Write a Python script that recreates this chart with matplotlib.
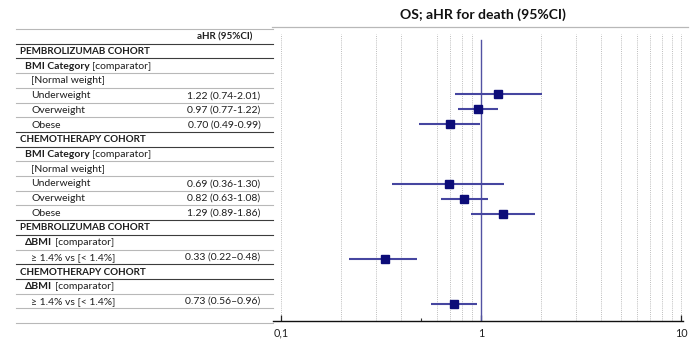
import matplotlib
matplotlib.use("Agg")
import matplotlib.pyplot as plt
import numpy as np

plt.rcParams['font.family'] = ['Lato', 'DejaVu Sans']

# ---------------- data ----------------
row_labels = ["aHR (95%CI)",
              "PEMBROLIZUMAB COHORT", "BMI Category", "[Normal weight]",
              "Underweight", "Overweight", "Obese",
              "CHEMOTHERAPY COHORT", "BMI Category", "[Normal weight]",
              "Underweight", "Overweight", "Obese",
              "PEMBROLIZUMAB COHORT", "\u0394BMI", "\u2265 1.4% vs [< 1.4%]",
              "CHEMOTHERAPY COHORT", "\u0394BMI", "\u2265 1.4% vs [< 1.4%]",
              ""]
row_kinds = ["header",
             "cohort", "group", "item", "item", "item", "item",
             "cohort", "group", "item", "item", "item", "item",
             "cohort", "group", "item",
             "cohort", "group", "item",
             "blank"]
hr = [None, None, None, None, 1.22, 0.97, 0.70, None, None, None, 0.69, 0.82, 1.29,
      None, None, 0.33, None, None, 0.73, None]
ci_lo = [None, None, None, None, 0.74, 0.77, 0.49, None, None, None, 0.36, 0.63, 0.89,
         None, None, 0.22, None, None, 0.56, None]
ci_hi = [None, None, None, None, 2.01, 1.22, 0.99, None, None, None, 1.30, 1.08, 1.86,
         None, None, 0.48, None, None, 0.96, None]
ci_text = ["", "", "", "", "1.22 (0.74-2.01)", "0.97 (0.77-1.22)", "0.70 (0.49-0.99)",
           "", "", "", "0.69 (0.36-1.30)", "0.82 (0.63-1.08)", "1.29 (0.89-1.86)",
           "", "", "0.33 (0.22\u20130.48)", "", "", "0.73 (0.56\u20130.96)", ""]
x_ticks = [0.1, 1, 10]
x_tick_labels = ["0,1", "1", "10"]
grid_values = [0.1, 0.2, 0.3, 0.4, 0.6, 0.7, 0.8, 0.9, 2, 3, 4, 5, 6, 7, 8, 9, 10]
title = "OS; aHR for death (95%CI)"

# ---------------- figure ----------------
W, H = 694, 342
fig = plt.figure(figsize=(W / 100, H / 100), dpi=100)
fig.patch.set_facecolor("white")

# table layer in pixel coordinates
tab = fig.add_axes([0, 0, 1, 1])
tab.set_xlim(0, W)
tab.set_ylim(H, 0)
tab.axis("off")

TXT = "#1e1e1e"
FS = 7.5
FSB = 7.1
n = len(row_labels)
top = 29.0
pitch = 14.7
dark_after = {0, 1, 6, 7, 12, 13, 15, 16}

# horizontal lines
tab.plot([16, 273], [top, top], color="#b8b8b8", lw=0.8)
for k in range(n):
    yk = top + (k + 1) * pitch
    if k in dark_after:
        tab.plot([16, 273], [yk, yk], color="#3c3c3c", lw=0.8)
    else:
        tab.plot([16, 273], [yk, yk], color="#b8b8b8", lw=0.8)

renderer = fig.canvas.get_renderer()
for i, (lab, kind) in enumerate(zip(row_labels, row_kinds)):
    yc = top + (i + 0.5) * pitch + 0.5
    if kind == "header":
        tab.text(224.5, yc, lab, ha="center", va="center", fontsize=FSB,
                 fontweight="bold", color=TXT)
    elif kind == "cohort":
        tab.text(20.5, yc, lab, ha="left", va="center", fontsize=FSB,
                 fontweight="bold", color=TXT)
    elif kind == "group":
        t = tab.text(25, yc, lab, ha="left", va="center", fontsize=FS,
                     fontweight="bold", color=TXT)
        bb = t.get_window_extent(renderer=renderer)
        x_end = bb.x1  # display pixels, equals data px here
        tab.text(x_end + 2.5, yc, "[comparator]", ha="left", va="center",
                 fontsize=FS, color=TXT)
    elif kind == "item":
        tab.text(31.5, yc, lab, ha="left", va="center", fontsize=FS, color=TXT)
    if ci_text[i]:
        tab.text(260.5, yc, ci_text[i], ha="right", va="center", fontsize=FS,
                 color=TXT)

# title and its rule
fig.text(483 / W, 1 - 14.5 / H, title, ha="center", va="center", fontsize=10.1,
         fontweight="bold", color="#111111")
tab.plot([272, 688], [27, 27], color="#b8b8b8", lw=0.9)

# ---------------- forest plot ----------------
ax_left_px, ax_right_px = 272.7, 683.0
ax_top_px, ax_bot_px = 34.0, 320.7
ax = fig.add_axes([ax_left_px / W, 1 - ax_bot_px / H,
                   (ax_right_px - ax_left_px) / W, (ax_bot_px - ax_top_px) / H])
ax.patch.set_alpha(0)
ax.set_xscale("log")
x_lo = 10 ** (-1 - (281 - ax_left_px) / 200)
x_hi = 10 ** (1 + (ax_right_px - 681) / 200)
ax.set_xlim(x_lo, x_hi)
row0 = 33.5
rp = 15.04
ax.set_ylim((ax_bot_px - row0) / rp, (ax_top_px - row0) / rp)

for g in grid_values:
    ax.axvline(g, color="#bdbdbd", lw=0.7, ls=(0, (1, 1.2)), zorder=1)
ax.axvline(1, ymax=(ax_bot_px - 40) / (ax_bot_px - ax_top_px), color="#5252a3",
           lw=1.0, zorder=2)

for i in range(n):
    if hr[i] is None:
        continue
    ax.plot([ci_lo[i], ci_hi[i]], [i, i], color="#4646a0", lw=1.5,
            solid_capstyle="butt", zorder=3)
    ax.plot([hr[i]], [i], marker="s", ms=5.2, color="#0c0c78", mec="#0c0c78",
            zorder=4)

for s in ["top", "right", "left"]:
    ax.spines[s].set_visible(False)
ax.spines["bottom"].set_color("#111111")
ax.spines["bottom"].set_linewidth(1.0)
ax.set_yticks([])
ax.set_xticks(x_ticks)
ax.set_xticklabels(x_tick_labels)
ax.set_xticks([0.5], minor=True)
ax.set_xticklabels([], minor=True)
ax.tick_params(axis="x", which="major", direction="in", length=4, width=0.9,
               color="#222222", labelsize=7.8, labelcolor="#222222", pad=5)
ax.tick_params(axis="x", which="minor", direction="in", length=2.5, width=0.8,
               color="#333333")

fig.savefig("out.png", dpi=100, facecolor="white")
